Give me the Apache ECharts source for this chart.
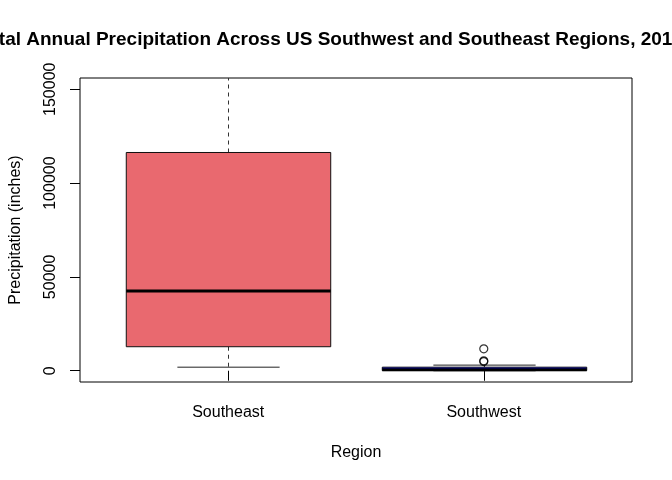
<!DOCTYPE html>
<html><head><meta charset="utf-8">
<script src="https://cdn.jsdelivr.net/npm/echarts@6/dist/echarts.min.js"></script>
<style>html,body{margin:0;padding:0;background:#fff}#c{width:672px;height:480px}</style>
</head><body><div id="c"></div>
<script>
const categories = ['Southeast', 'Southwest'];
// [lower whisker, Q1, median, Q3, upper whisker]
const southeastStats = [1900, 12800, 42500, 116300, 170000];
const southwestStats = [0, 100, 500, 1900, 3000];
const southeastOutliers = [];
const southwestOutliers = [4900, 5300, 11700];
const boxColors = ['#E9696F', '#0000FF'];
const yTicks = [0, 50000, 100000, 150000];
const titleText = 'Total Annual Precipitation Across US Southwest and Southeast Regions, 2017';

const FONT = "'Liberation Sans', Arial, Helvetica, sans-serif";
const statsList = [southeastStats, southwestStats];
const outlierList = [southeastOutliers, southwestOutliers];

const boxData = statsList.map((s, i) => [i + 1].concat(s));
const outlierData = [];
outlierList.forEach((arr, i) => arr.forEach(v => outlierData.push([i + 1, v])));

function renderBox(params, api) {
  const x = api.value(0);
  const lo = api.value(1), q1 = api.value(2), med = api.value(3), q3 = api.value(4), hi = api.value(5);
  const w = api.size([0.8, 0])[0];
  const cx = Math.round(api.coord([x, 0])[0]) + 0.5;
  const yv = v => api.coord([x, v])[1];
  const yLo = yv(lo), yQ1 = yv(q1), yMed = yv(med), yQ3 = yv(q3), yHi = yv(hi);
  const color = boxColors[params.dataIndex];
  const ln = (x1, y1, x2, y2, style) => ({ type: 'line', shape: { x1, y1, x2, y2 }, style: Object.assign({ stroke: '#222', lineWidth: 1 }, style) });
  return {
    type: 'group',
    children: [
      ln(cx, yQ3, cx, yHi, { lineDash: [4, 4], stroke: '#333' }),
      ln(cx, yQ1, cx, yLo, { lineDash: [4, 4], stroke: '#333' }),
      ln(cx - w / 4, yHi, cx + w / 4, yHi, {}),
      ln(cx - w / 4, yLo, cx + w / 4, yLo, {}),
      { type: 'rect', shape: { x: cx - w / 2, y: yQ3, width: w, height: yQ1 - yQ3 },
        style: { fill: color, stroke: '#111', lineWidth: 1 } },
      ln(cx - w / 2, yMed, cx + w / 2, yMed, { lineWidth: 3, stroke: '#000' })
    ]
  };
}

const chart = echarts.init(document.getElementById('c'), null, { renderer: 'canvas' });
chart.setOption({
  animation: false,
  backgroundColor: '#fff',
  textStyle: { fontFamily: FONT },
  title: {
    text: titleText, left: 330, top: 30, padding: 0, textAlign: 'center',
    textStyle: { fontSize: 19, fontWeight: 'bold', color: '#000', fontFamily: FONT }
  },
  grid: { left: 78.5, right: 40, top: 78, bottom: 98, show: true, borderColor: '#000', borderWidth: 1, containLabel: false },
  xAxis: {
    type: 'value', min: 0.42, max: 2.58,
    splitLine: { show: false },
    axisLine: { show: false },
    axisTick: { show: true, customValues: [1, 2], length: 10, lineStyle: { color: '#000' } },
    axisLabel: { customValues: [1, 2], formatter: v => categories[Math.round(v) - 1], fontSize: 16, color: '#000', margin: 23, fontFamily: FONT },
    name: 'Region', nameLocation: 'middle', nameGap: 63,
    nameTextStyle: { fontSize: 16, color: '#000', fontFamily: FONT }
  },
  yAxis: {
    type: 'value', min: -6000, max: 156000,
    splitLine: { show: false },
    axisLine: { show: false },
    axisTick: { show: true, customValues: yTicks, length: 10, lineStyle: { color: '#000' } },
    axisLabel: { customValues: yTicks, formatter: v => String(v), rotate: 90, fontSize: 16, color: '#000', margin: 21, fontFamily: FONT },
    name: 'Precipitation (inches)', nameLocation: 'middle', nameGap: 56, nameRotate: 90,
    nameTextStyle: { fontSize: 16, color: '#000', fontFamily: FONT }
  },
  series: [
    { type: 'custom', renderItem: renderBox, data: boxData, clip: true, encode: { x: 0, y: [1, 2, 3, 4, 5] } },
    { type: 'scatter', data: outlierData, symbol: 'circle', symbolSize: 8,
      itemStyle: { color: 'rgba(0,0,0,0)', borderColor: '#000', borderWidth: 1.2 } }
  ]
});
</script></body></html>
